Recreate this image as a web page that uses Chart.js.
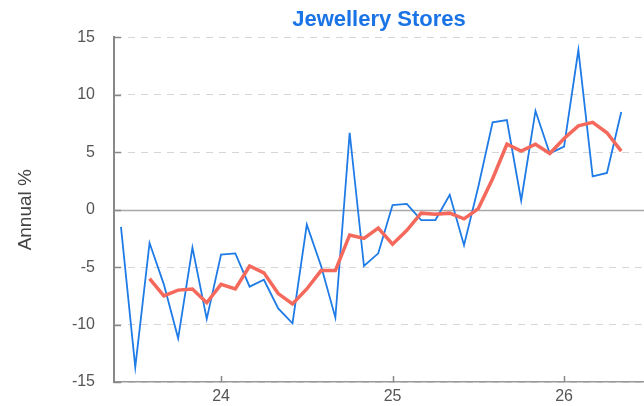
<!DOCTYPE html>
<html>
<head>
<meta charset="utf-8">
<script src="https://cdn.jsdelivr.net/npm/chart.js@4"></script>
<style>
  html, body { margin: 0; padding: 0; background: #fff; }
  #wrap { position: relative; width: 644px; height: 406px; }
</style>
</head>
<body>
<div id="wrap"><canvas id="chart"></canvas></div>
<script>
// months (YYYY-MM) of each observation
const months = [
  '2023-06', '2023-07', '2023-08', '2023-09', '2023-10', '2023-11', '2023-12',
  '2024-01', '2024-02', '2024-03', '2024-04', '2024-05', '2024-06', '2024-07',
  '2024-08', '2024-09', '2024-10', '2024-11', '2024-12',
  '2025-01', '2025-02', '2025-03', '2025-04', '2025-05', '2025-06', '2025-07',
  '2025-08', '2025-09', '2025-10', '2025-11', '2025-12',
  '2026-01', '2026-02', '2026-03', '2026-04', '2026-05'
];

// annual % change, monthly
const monthly = [
  -1.5, -13.7, -2.9, -6.5, -11.2, -3.3, -9.5,
  -3.9, -3.8, -6.7, -6.1, -8.6, -9.9, -1.3,
  -4.9, -9.4, 6.7, -4.9, -3.8,
  0.4, 0.5, -0.9, -0.9, 1.3, -3.1, 2.0,
  7.6, 7.8, 0.8, 8.6, 4.9,
  5.5, 13.9, 2.9, 3.2, 8.5
];

// smoothed trend (red line)
const trend = [
  null, null, -6.0, -7.5, -7.0, -6.9, -8.1,
  -6.5, -6.9, -4.9, -5.5, -7.3, -8.2, -6.9,
  -5.3, -5.3, -2.2, -2.5, -1.6,
  -3.0, -1.8, -0.3, -0.4, -0.3, -0.8, 0.1,
  2.7, 5.7, 5.1, 5.7, 4.9,
  6.2, 7.3, 7.6, 6.7, 5.1
];

const yearTicks = [24, 25, 26];
const yTicks = [-15, -10, -5, 0, 5, 10, 15];

// '2024-01' -> 24.0 on the year axis
const toYear = (m) => {
  const [yy, mm] = m.split('-').map(Number);
  return (yy - 2000) + (mm - 1) / 12;
};

const toPoints = (vals) => months.map((m, i) => ({ x: toYear(m), y: vals[i] }));

const FONT = "'Liberation Sans', Arial, sans-serif";

// zero line + little inward tick marks
const axisMarks = {
  id: 'axisMarks',
  beforeDatasetsDraw(chart) {
    const { ctx, chartArea: a, scales: { x, y } } = chart;
    const line = (x1, y1, x2, y2) => {
      ctx.beginPath();
      ctx.moveTo(x1, y1);
      ctx.lineTo(x2, y2);
      ctx.stroke();
    };
    ctx.save();
    ctx.strokeStyle = '#a8a8a8';
    ctx.lineWidth = 1.5;
    const y0 = Math.round(y.getPixelForValue(0)) + 0.5;
    line(a.left, y0, a.right, y0);

    ctx.strokeStyle = '#888';
    ctx.lineWidth = 1.5;
    y.ticks.forEach((t) => {
      const py = Math.round(y.getPixelForValue(t.value)) + 0.5;
      line(a.left, py, a.left + 7, py);
    });
    x.ticks.forEach((t) => {
      const px = Math.round(x.getPixelForValue(t.value)) + 0.5;
      line(px, a.bottom, px, a.bottom - 6);
    });
    ctx.restore();
  }
};

new Chart(document.getElementById('chart'), {
  type: 'line',
  data: {
    datasets: [
      {
        label: 'Trend',
        data: toPoints(trend),
        borderColor: '#f4695c',
        borderWidth: 3.5,
        pointRadius: 0,
        tension: 0,
        spanGaps: false,
        order: 1
      },
      {
        label: 'Monthly',
        data: toPoints(monthly),
        borderColor: '#1f7be6',
        borderWidth: 1.8,
        pointRadius: 0,
        tension: 0,
        order: 2
      }
    ]
  },
  options: {
    responsive: true,
    maintainAspectRatio: false,
    animation: false,
    layout: { padding: 0 },
    plugins: {
      legend: { display: false },
      tooltip: { enabled: false },
      title: {
        display: true,
        text: 'Jewellery Stores',
        fullSize: false,
        color: '#1a74e6',
        font: { family: FONT, size: 22, weight: 'bold', lineHeight: 1.2 },
        padding: { top: 7, bottom: 4 }
      }
    },
    scales: {
      x: {
        type: 'linear',
        min: 23.376,
        max: 26.466,
        afterBuildTicks: (scale) => {
          scale.ticks = yearTicks.map((v) => ({ value: v }));
        },
        afterFit: (scale) => { scale.height = 24; },
        grid: { display: false, drawTicks: false },
        border: { display: true, color: '#999', width: 1.5 },
        ticks: {
          color: '#555',
          padding: 5,
          font: { family: FONT, size: 16 },
          callback: (v) => String(v)
        }
      },
      y: {
        min: -15,
        max: 15,
        afterBuildTicks: (scale) => {
          scale.ticks = yTicks.map((v) => ({ value: v }));
        },
        afterFit: (scale) => {
          scale.width = 114;
          scale.paddingTop = 0;
          scale.paddingBottom = 0;
        },
        grid: {
          drawTicks: false,
          lineWidth: 1,
          color: (c) => (c.tick && c.tick.value === 0 ? 'rgba(0,0,0,0)' : '#d6d6d6')
        },
        border: { display: true, color: '#888', width: 2, dash: [7, 6] },
        ticks: {
          color: '#555',
          padding: 19,
          font: { family: FONT, size: 16 }
        },
        title: {
          display: true,
          text: 'Annual %',
          color: '#444',
          font: { family: FONT, size: 19 },
          padding: { top: 14, bottom: 0 }
        }
      }
    }
  },
  plugins: [axisMarks]
});
</script>
</body>
</html>
